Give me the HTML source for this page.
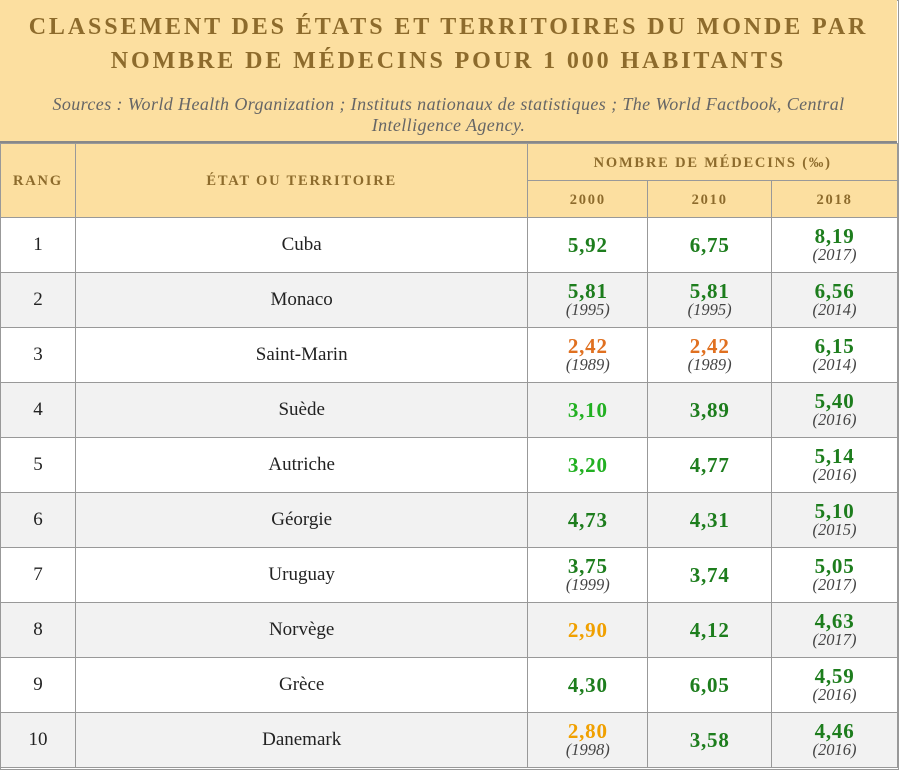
<!DOCTYPE html>
<html><head><meta charset="utf-8"><style>
body{margin:0;background:#fff;font-family:"Liberation Serif",serif;}
.wrap{position:absolute;left:0;top:0;width:897px;height:768px;border:1px solid #999;}
.title{position:absolute;left:0;top:0;width:897px;height:141px;background:#fcdfa0;border-bottom:2px solid #888;text-align:center;}
.t{color:#8d6b2c;font-weight:bold;font-size:24px;letter-spacing:2.9px;line-height:34px;margin-top:10px;white-space:nowrap;}
.s{color:#666;font-style:italic;font-size:18px;letter-spacing:0.4px;line-height:21px;margin-top:16px;white-space:nowrap;}
table{position:absolute;left:0;top:143px;border-collapse:collapse;width:898px;}
td,th{border:1px solid #999;text-align:center;padding:0;}
th{background:#fcdfa0;color:#8d6b2c;font-size:14.5px;letter-spacing:1.8px;font-weight:bold;padding-top:2px;}
td{font-size:19px;color:#222;height:54px;}
tr.g td{background:#f2f2f2;}
.v{font-weight:bold;font-size:21px;line-height:20px;color:#1d7d1d;letter-spacing:0.8px;}
.l{color:#22b022}.o{color:#e07020}.y{color:#f0a000}
.d{font-style:italic;font-size:16.5px;color:#444;line-height:18px;}
</style></head><body>
<div class="wrap"></div>
<div class="title"><div class="t">CLASSEMENT DES ÉTATS ET TERRITOIRES DU MONDE PAR<br>NOMBRE DE MÉDECINS POUR 1 000 HABITANTS</div>
<div class="s">Sources : World Health Organization ; Instituts nationaux de statistiques ; The World Factbook, Central<br>Intelligence Agency.</div></div>
<table>
<colgroup><col style="width:75px"><col style="width:453px"><col style="width:120px"><col style="width:124px"><col style="width:126px"></colgroup>
<tr style="height:37px"><th rowspan="2">RANG</th><th rowspan="2">ÉTAT OU TERRITOIRE</th><th colspan="3">NOMBRE DE MÉDECINS (‰)</th></tr>
<tr style="height:37px"><th>2000</th><th>2010</th><th>2018</th></tr>
<tr><td>1</td><td>Cuba</td><td><div class="v">5,92</div></td><td><div class="v">6,75</div></td><td><div class="v">8,19</div><div class="d">(2017)</div></td></tr>
<tr class="g"><td>2</td><td>Monaco</td><td><div class="v">5,81</div><div class="d">(1995)</div></td><td><div class="v">5,81</div><div class="d">(1995)</div></td><td><div class="v">6,56</div><div class="d">(2014)</div></td></tr>
<tr><td>3</td><td>Saint-Marin</td><td><div class="v o">2,42</div><div class="d">(1989)</div></td><td><div class="v o">2,42</div><div class="d">(1989)</div></td><td><div class="v">6,15</div><div class="d">(2014)</div></td></tr>
<tr class="g"><td>4</td><td>Suède</td><td><div class="v l">3,10</div></td><td><div class="v">3,89</div></td><td><div class="v">5,40</div><div class="d">(2016)</div></td></tr>
<tr><td>5</td><td>Autriche</td><td><div class="v l">3,20</div></td><td><div class="v">4,77</div></td><td><div class="v">5,14</div><div class="d">(2016)</div></td></tr>
<tr class="g"><td>6</td><td>Géorgie</td><td><div class="v">4,73</div></td><td><div class="v">4,31</div></td><td><div class="v">5,10</div><div class="d">(2015)</div></td></tr>
<tr><td>7</td><td>Uruguay</td><td><div class="v">3,75</div><div class="d">(1999)</div></td><td><div class="v">3,74</div></td><td><div class="v">5,05</div><div class="d">(2017)</div></td></tr>
<tr class="g"><td>8</td><td>Norvège</td><td><div class="v y">2,90</div></td><td><div class="v">4,12</div></td><td><div class="v">4,63</div><div class="d">(2017)</div></td></tr>
<tr><td>9</td><td>Grèce</td><td><div class="v">4,30</div></td><td><div class="v">6,05</div></td><td><div class="v">4,59</div><div class="d">(2016)</div></td></tr>
<tr class="g"><td>10</td><td>Danemark</td><td><div class="v y">2,80</div><div class="d">(1998)</div></td><td><div class="v">3,58</div></td><td><div class="v">4,46</div><div class="d">(2016)</div></td></tr>
</table>
</body></html>
